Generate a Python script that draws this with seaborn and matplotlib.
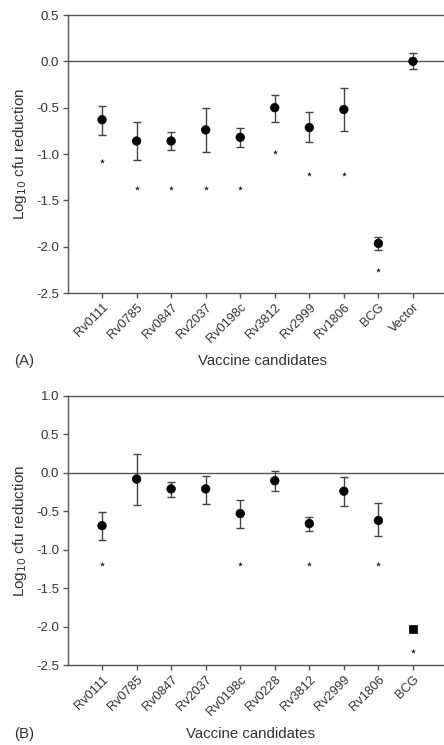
import matplotlib
matplotlib.use("Agg")
import matplotlib.pyplot as plt
import seaborn as sns
import numpy as np
import pandas as pd

# Panel A data
cats_a = ["Rv0111", "Rv0785", "Rv0847", "Rv2037", "Rv0198c", "Rv3812",
          "Rv2999", "Rv1806", "BCG", "Vector"]
mean_a = [-0.63, -0.86, -0.86, -0.74, -0.82, -0.50, -0.715, -0.52, -1.965, 0.0]
upper_a = [-0.48, -0.65, -0.76, -0.50, -0.72, -0.365, -0.55, -0.29, -1.895, 0.094]
lower_a = [-0.79, -1.065, -0.957, -0.975, -0.92, -0.65, -0.875, -0.75, -2.04, -0.087]
star_a = [-1.075, -1.37, -1.37, -1.37, -1.37, -0.98, -1.22, -1.22, -2.255, np.nan]
shape_a = ["circle"] * 10

# Panel B data
cats_b = ["Rv0111", "Rv0785", "Rv0847", "Rv2037", "Rv0198c", "Rv0228",
          "Rv3812", "Rv2999", "Rv1806", "BCG"]
mean_b = [-0.687, -0.082, -0.21, -0.21, -0.53, -0.104, -0.66, -0.24, -0.62, -2.03]
upper_b = [-0.51, 0.246, -0.125, -0.04, -0.35, 0.02, -0.57, -0.06, -0.39, -2.01]
lower_b = [-0.869, -0.42, -0.31, -0.41, -0.72, -0.237, -0.75, -0.43, -0.826, -2.05]
star_b = [-1.19, np.nan, np.nan, np.nan, -1.19, np.nan, -1.19, np.nan, -1.19, -2.31]
shape_b = ["circle"] * 9 + ["square"]

sns.set_theme(style="ticks")
plt.rcParams["font.family"] = ["Liberation Sans", "DejaVu Sans"]
GRAY = "#555555"
TXT = "#333333"
plt.rcParams.update({
    "axes.edgecolor": GRAY, "xtick.color": GRAY, "ytick.color": GRAY,
    "xtick.labelcolor": TXT, "ytick.labelcolor": TXT, "axes.labelcolor": TXT,
    "axes.linewidth": 1.0,
})

fig = plt.figure(figsize=(4.44, 7.45), dpi=100)
W, H = 444.0, 745.0

def make_axes(top, bottom):
    left, right = 67.5, 447.5
    return fig.add_axes([left / W, 1 - bottom / H, (right - left) / W, (bottom - top) / H])

def draw_panel(ax, cats, mean, upper, lower, star, shape, ylim, yticks):
    df = pd.DataFrame({"cat": cats, "mean": mean, "up": upper, "lo": lower,
                       "star": star, "shape": shape})
    yerr = np.vstack([df["mean"] - df["lo"], df["up"] - df["mean"]])
    ax.errorbar(df["cat"], df["mean"], yerr=yerr, fmt="none", ecolor="#444444",
                elinewidth=1.0, capsize=2.8, capthick=1.0, zorder=2)
    sns.scatterplot(data=df, x="cat", y="mean", style="shape",
                    markers={"circle": "o", "square": "s"}, color="black",
                    s=38, edgecolor="black", linewidth=0.5, legend=False, ax=ax, zorder=3)
    ds = df.dropna(subset=["star"])
    sns.scatterplot(data=ds, x="cat", y="star", marker="*", color="#222222",
                    s=14, linewidth=0, legend=False, ax=ax, zorder=3)
    ax.axhline(0, color=GRAY, lw=1.0, zorder=1)
    ax.set_xlim(-1, 10)
    ax.set_ylim(*ylim)
    ax.set_yticks(yticks)
    ax.set_yticklabels([f"{t:.1f}" for t in yticks])
    ax.tick_params(axis="both", direction="out", length=3.5, width=1.0, labelsize=9.5, pad=2.5)
    ax.tick_params(axis="x", labelsize=9.2)
    ax.set_xticks(range(len(cats)))
    ax.set_xticklabels(cats, rotation=45, ha="right", rotation_mode="anchor")
    for s in ["top", "left", "bottom", "right"]:
        ax.spines[s].set_visible(True)
    ax.set_xlabel("")
    ax.set_ylabel("Log$_{10}$ cfu reduction", fontsize=11, labelpad=5)

axA = make_axes(15, 293)
draw_panel(axA, cats_a, mean_a, upper_a, lower_a, star_a, shape_a,
           (-2.5, 0.5), [-2.5, -2.0, -1.5, -1.0, -0.5, 0.0, 0.5])
axB = make_axes(395.7, 665.3)
draw_panel(axB, cats_b, mean_b, upper_b, lower_b, star_b, shape_b,
           (-2.5, 1.0), [-2.5, -2.0, -1.5, -1.0, -0.5, 0.0, 0.5, 1.0])

fig.text(263 / W, 1 - 361 / H, "Vaccine candidates", ha="center", va="center", fontsize=10.8, color=TXT)
fig.text(14 / W, 1 - 361 / H, "(A)", ha="left", va="center", fontsize=10.8, color=TXT)
fig.text(250 / W, 1 - 734 / H, "Vaccine candidates", ha="center", va="center", fontsize=10.8, color=TXT)
fig.text(14 / W, 1 - 734 / H, "(B)", ha="left", va="center", fontsize=10.8, color=TXT)

fig.savefig("out.png", dpi=100)
